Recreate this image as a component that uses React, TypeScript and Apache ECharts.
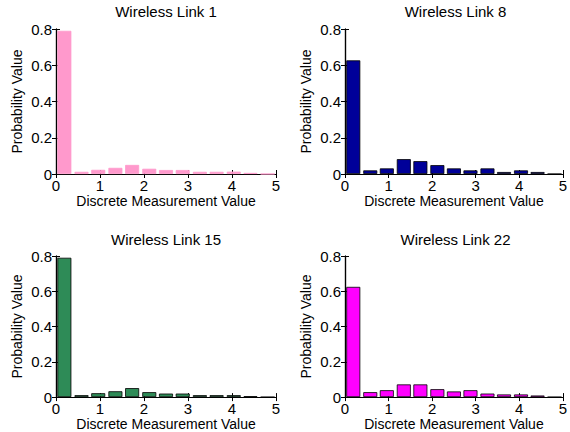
import React, { useEffect, useRef } from "react";
import * as echarts from "echarts";

const binCenters = [0.19, 0.58, 0.96, 1.35, 1.73, 2.12, 2.5, 2.88, 3.27, 3.65, 4.04, 4.42, 4.81];
const xTicks = [0, 1, 2, 3, 4, 5];
const yTicks = [0, 0.2, 0.4, 0.6, 0.8];

const titles = ["Wireless Link 1", "Wireless Link 8", "Wireless Link 15", "Wireless Link 22"];
const link1 = [0.79, 0.012, 0.023, 0.034, 0.05, 0.029, 0.022, 0.022, 0.012, 0.012, 0.013, 0.006, 0];
const link8 = [0.627, 0.02, 0.031, 0.082, 0.071, 0.049, 0.031, 0.02, 0.031, 0.011, 0.02, 0.011, 0];
const link15 = [0.79, 0.011, 0.022, 0.033, 0.051, 0.028, 0.02, 0.02, 0.011, 0.011, 0.011, 0.005, 0];
const link22 = [0.625, 0.028, 0.039, 0.072, 0.072, 0.045, 0.032, 0.039, 0.02, 0.015, 0.015, 0.009, 0];
const colors = ["#ff99cc", "#000099", "#2e8b57", "#ff00ff"];
const edgeColors = ["#ff99cc", "#000000", "#000000", "#000000"];

const xLabel = "Discrete Measurement Value";
const yLabel = "Probability Value";

const grids = [
  { left: 56, top: 29, width: 220, height: 145 },
  { left: 345, top: 29, width: 221, height: 145 },
  { left: 56, top: 256, width: 220, height: 144 },
  { left: 345, top: 256, width: 221, height: 144 },
];
const titleTops = [4, 4, 232, 232];

export default function App() {
  const ref = useRef<HTMLDivElement>(null);
  useEffect(() => {
    if (!ref.current) return;
    const chart = echarts.init(ref.current, null, { renderer: "svg" });
    const series = [link1, link8, link15, link22];
    const font = "'Liberation Sans', Arial, Helvetica, sans-serif";
    const xInterval = xTicks[1] - xTicks[0];
    const yInterval = yTicks[1] - yTicks[0];
    const xAxis: any[] = [];
    const yAxis: any[] = [];
    grids.forEach((g, i) => {
      xAxis.push({
        type: "value",
        gridIndex: i,
        min: xTicks[0],
        max: xTicks[xTicks.length - 1],
        interval: xInterval,
        position: "bottom",
        axisLine: { show: true, lineStyle: { color: "#000", width: 1.2 } },
        axisTick: { show: true, inside: true, length: 4, lineStyle: { color: "#000" } },
        axisLabel: { color: "#000", fontSize: 15, fontFamily: font, margin: 4 },
        splitLine: { show: false },
        name: xLabel,
        nameLocation: "middle",
        nameGap: 19,
        nameTextStyle: { color: "#000", fontSize: 14, fontFamily: font, verticalAlign: "top" },
      });
      xAxis.push({
        type: "value",
        gridIndex: i,
        min: xTicks[0],
        max: xTicks[xTicks.length - 1],
        interval: xInterval,
        position: "top",
        axisLine: { show: true, lineStyle: { color: "#000", width: 1.2 } },
        axisTick: { show: true, inside: true, length: 4, lineStyle: { color: "#000" } },
        axisLabel: { show: false },
        splitLine: { show: false },
      });
      yAxis.push({
        type: "value",
        gridIndex: i,
        min: yTicks[0],
        max: yTicks[yTicks.length - 1],
        interval: yInterval,
        position: "left",
        axisLine: { show: true, lineStyle: { color: "#000", width: 1.2 } },
        axisTick: { show: true, inside: true, length: 4, lineStyle: { color: "#000" } },
        axisLabel: { color: "#000", fontSize: 15, fontFamily: font, margin: 4 },
        splitLine: { show: false },
        name: yLabel,
        nameLocation: "middle",
        nameGap: 32,
        nameRotate: 90,
        nameTextStyle: { color: "#000", fontSize: 14, fontFamily: font },
      });
      yAxis.push({
        type: "value",
        gridIndex: i,
        min: yTicks[0],
        max: yTicks[yTicks.length - 1],
        interval: yInterval,
        position: "right",
        axisLine: { show: true, lineStyle: { color: "#000", width: 1.2 } },
        axisTick: { show: true, inside: true, length: 4, lineStyle: { color: "#000" } },
        axisLabel: { show: false },
        splitLine: { show: false },
      });
    });
    chart.setOption({
      animation: false,
      backgroundColor: "#fff",
      title: grids.map((g, i) => ({
        text: titles[i],
        left: g.left + g.width / 2,
        top: titleTops[i],
        padding: 0,
        textAlign: "center",
        textStyle: { color: "#000", fontSize: 15, fontWeight: "normal", fontFamily: font },
      })),
      grid: grids.map((g) => ({ ...g, containLabel: false })),
      xAxis,
      yAxis,
      series: series.map((vals, i) => ({
        type: "bar",
        xAxisIndex: i * 2,
        yAxisIndex: i * 2,
        barWidth: 14,
        data: vals.map((v, j) => [binCenters[j], v]),
        itemStyle: { color: colors[i], borderColor: edgeColors[i], borderWidth: 0.8 },
      })),
    });
    return () => chart.dispose();
  }, []);
  return (
    <div
      ref={ref}
      style={{ position: "fixed", left: 0, top: 0, width: 570, height: 432, background: "#fff" }}
    />
  );
}
